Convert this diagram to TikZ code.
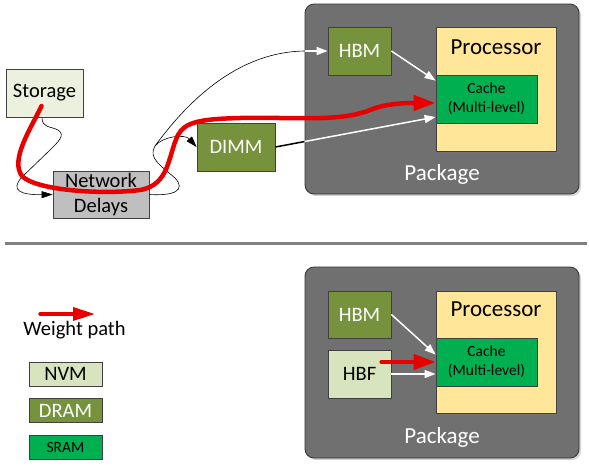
\documentclass[tikz,border=0pt]{standalone}
\usepackage{fontspec}
\setmainfont{Carlito}
\usepackage{xcolor}
\usetikzlibrary{arrows.meta, positioning, shadows}

\definecolor{pkggray}{RGB}{112,112,112}
\definecolor{dramgreen}{RGB}{118,146,60}
\definecolor{nvmlight}{RGB}{215,228,189}
\definecolor{storlight}{RGB}{235,241,222}
\definecolor{netgray}{RGB}{191,191,191}
\definecolor{procyellow}{RGB}{255,230,153}
\definecolor{sramgreen}{RGB}{0,176,80}
\definecolor{pathred}{RGB}{232,0,0}
\definecolor{rulegray}{RGB}{128,128,128}

\begin{document}
\begin{tikzpicture}[x=1pt, y=-1pt,
  blk/.style={draw=black!75, line width=0.8pt, inner sep=0pt, align=center,
              font=\fontsize{20.5}{25}\selectfont},
  pkg/.style={draw=black!80, fill=pkggray, rounded corners=9pt, line width=0.8pt,
              minimum width=274pt, drop shadow={shadow xshift=2pt, shadow yshift=-2pt, opacity=0.35}},
  proc/.style={blk, fill=procyellow, minimum width=120pt,
              drop shadow={shadow xshift=2pt, shadow yshift=-2pt, opacity=0.35}},
  cachebox/.style={blk, fill=sramgreen, minimum width=101pt, minimum height=48pt,
              font=\fontsize{15.5}{19}\selectfont},
  dram/.style={blk, fill=dramgreen, text=white},
  nvm/.style={blk, fill=nvmlight},
  lbl/.style={inner sep=0pt, font=\fontsize{23}{27}\selectfont},
  keybox/.style={minimum width=73pt, minimum height=24pt},
  thinarr/.style={line width=0.6pt, -{Triangle[length=11pt, width=7pt]}},
  whitearr/.style={white, line width=1.5pt, -{Triangle[length=11pt, width=8pt]}},
  wpath/.style={pathred, line width=4.5pt, line cap=round, -{Triangle[length=22pt, width=15pt]}}]
\useasboundingbox (0,0) rectangle (589,467);

\node[pkg, minimum height=190pt] (pkgtop) at (442,99) {};
\node[lbl, text=white] (pkglbltop) at (442,174) {Package};
\node[proc, minimum height=124pt] (proctop) at (496,89) {};
\node[lbl] (proclbltop) at (496,47) {Processor};
\node[cachebox] (cachetop) at (486.5,99) {Cache\\(Multi-level)};
\node[dram, minimum width=63pt, minimum height=48pt] (hbmtop) at (359.5,51) {HBM};
\node[dram, minimum width=78pt, minimum height=48pt] (dimm) at (236,147) {DIMM};
\node[blk, fill=storlight, minimum width=77pt, minimum height=48pt] (storage) at (44.5,93) {Storage};
\node[blk, fill=netgray, minimum width=96pt, minimum height=47pt] (net) at (101,194.5) {Network\\Delays};

\coordinate (split) at (155,146);
\coordinate (hbmedge) at (pkgtop.west |- hbmtop.west);
\coordinate (dimmin) at ([yshift=-18pt]cachetop.west);
\coordinate (dimmedge) at (intersection of dimm.east--dimmin and pkgtop.north west--pkgtop.south west);

\draw[thinarr] ([xshift=-2.5pt]storage.south) .. controls (42,128) and (50,126) .. (58,130)
  .. controls (66,135) and (58,142) .. (50,150) -- (22,177)
  .. controls (10,190) and (20,195) .. (net.west);
\draw[line width=0.6pt] (net.east) .. controls (175,196) and (186,190) .. (175,178)
  .. controls (160,165) and (148,158) .. (split);
\draw[thinarr] (split) .. controls (163,136) and (185,134) .. (dimm.west);
\draw[line width=0.6pt] (split) .. controls (185,105) and (235,52) .. (hbmedge);
\draw[whitearr] (hbmedge) -- (hbmtop.west);
\draw[whitearr] (hbmtop.east) -- ([yshift=-6pt]cachetop.north west);
\draw[line width=1.5pt] (dimm.east) -- (dimmedge);
\draw[whitearr] (dimmedge) -- (dimmin);
\draw[wpath] ([shift={(-3,13)}]storage.center) .. controls (30,130) and (10,160) .. (22,176)
  .. controls (35,190) and (100,195) .. (140,190)
  .. controls (170,185) and (168,155) .. (178,135)
  .. controls (185,122) and (200,119) .. (240,118)
  .. controls (300,117) and (340,122) .. (370,110)
  .. controls (385,104) and (400,103) .. ([yshift=-4pt]cachetop.west);

\draw[rulegray, line width=3pt] (5,243) -- (587,243);

\node[pkg, minimum height=191pt] (pkgbot) at (442,362.5) {};
\node[lbl, text=white] (pkglblbot) at (442,437) {Package};
\node[proc, minimum height=122pt] (procbot) at (496,352) {};
\node[lbl] (proclblbot) at (496,309) {Processor};
\node[cachebox] (cachebot) at (486.5,362) {Cache\\(Multi-level)};
\node[dram, minimum width=63pt, minimum height=47pt] (hbmbot) at (359.5,314.5) {HBM};
\node[nvm, minimum width=63pt, minimum height=48pt] (hbf) at (359.5,374) {HBF};
\draw[whitearr] (hbmbot.east) -- ([yshift=-17pt]cachebot.north west);
\draw[whitearr] (hbf.east) -- ([yshift=-12pt]cachebot.west);
\draw[wpath, line width=4pt] ([shift={(-10,-12)}]hbf.east) -- (cachebot.west);

\coordinate (keystart) at (40,314);
\coordinate (keyend) at (95,314);
\draw[wpath, line width=3.5pt, -{Triangle[length=22pt, width=13pt]}] (keystart) -- (keyend);
\node[inner sep=0pt, font=\fontsize{20.5}{25}\selectfont] (keylbl) at (74.5,330) {Weight path};
\node[nvm, keybox] (nvmkey) at (65.5,374) {NVM};
\node[dram, keybox, below=12pt of nvmkey] (dramkey) {DRAM};
\node[blk, fill=sramgreen, keybox, font=\fontsize{15.5}{19}\selectfont, below=12pt of dramkey] (sramkey) {SRAM};
\end{tikzpicture}
\end{document}
